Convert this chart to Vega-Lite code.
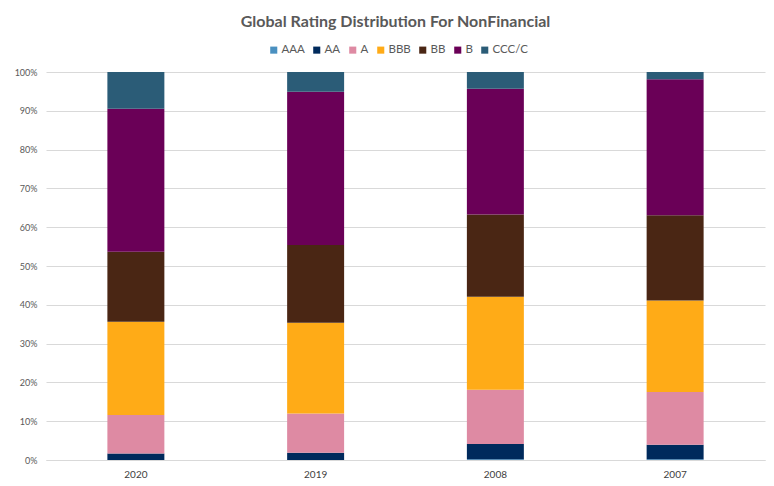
{
  "$schema": "https://vega.github.io/schema/vega-lite/v6.json",
  "width": 719,
  "height": 388,
  "autosize": {"type": "none"},
  "padding": {"left": 46, "top": 72, "right": 9, "bottom": 26},
  "background": "white",
  "title": {
    "text": "Global Rating Distribution For NonFinancial",
    "anchor": "middle",
    "font": "Lato",
    "fontSize": 16,
    "fontWeight": "bold",
    "color": "#595959",
    "offset": 14,
    "dx": -10
  },
  "data": {
    "values": [
      {"year": "2020", "rating": "AAA", "share": 0.0},
      {"year": "2020", "rating": "AA", "share": 0.017},
      {"year": "2020", "rating": "A", "share": 0.099},
      {"year": "2020", "rating": "BBB", "share": 0.240},
      {"year": "2020", "rating": "BB", "share": 0.181},
      {"year": "2020", "rating": "B", "share": 0.368},
      {"year": "2020", "rating": "CCC/C", "share": 0.095},
      {"year": "2019", "rating": "AAA", "share": 0.0},
      {"year": "2019", "rating": "AA", "share": 0.019},
      {"year": "2019", "rating": "A", "share": 0.101},
      {"year": "2019", "rating": "BBB", "share": 0.234},
      {"year": "2019", "rating": "BB", "share": 0.200},
      {"year": "2019", "rating": "B", "share": 0.395},
      {"year": "2019", "rating": "CCC/C", "share": 0.051},
      {"year": "2008", "rating": "AAA", "share": 0.002},
      {"year": "2008", "rating": "AA", "share": 0.039},
      {"year": "2008", "rating": "A", "share": 0.140},
      {"year": "2008", "rating": "BBB", "share": 0.240},
      {"year": "2008", "rating": "BB", "share": 0.212},
      {"year": "2008", "rating": "B", "share": 0.324},
      {"year": "2008", "rating": "CCC/C", "share": 0.043},
      {"year": "2007", "rating": "AAA", "share": 0.002},
      {"year": "2007", "rating": "AA", "share": 0.037},
      {"year": "2007", "rating": "A", "share": 0.136},
      {"year": "2007", "rating": "BBB", "share": 0.236},
      {"year": "2007", "rating": "BB", "share": 0.220},
      {"year": "2007", "rating": "B", "share": 0.350},
      {"year": "2007", "rating": "CCC/C", "share": 0.019}
    ]
  },
  "transform": [
    {"calculate": "indexof(['AAA','AA','A','BBB','BB','B','CCC/C'], datum.rating)", "as": "rating_rank"}
  ],
  "mark": {"type": "bar"},
  "encoding": {
    "x": {
      "field": "year",
      "type": "nominal",
      "sort": ["2020", "2019", "2008", "2007"],
      "scale": {"paddingInner": 0.683, "paddingOuter": 0.3415},
      "axis": {
        "title": null,
        "labelAngle": 0,
        "ticks": false,
        "domain": true,
        "domainColor": "#D9D9D9",
        "labelColor": "#404040",
        "labelFont": "Lato",
        "labelFontSize": 10,
        "labelPadding": 9
      }
    },
    "y": {
      "field": "share",
      "type": "quantitative",
      "stack": "zero",
      "scale": {"domain": [0, 1], "nice": false},
      "axis": {
        "title": null,
        "format": ".0%",
        "values": [0, 0.1, 0.2, 0.3, 0.4, 0.5, 0.6, 0.7, 0.8, 0.9, 1.0],
        "domain": false,
        "ticks": false,
        "gridColor": "#D9D9D9",
        "labelColor": "#595959",
        "labelFont": "Lato",
        "labelFontSize": 9,
        "labelPadding": 9
      }
    },
    "color": {
      "field": "rating",
      "type": "nominal",
      "sort": ["AAA", "AA", "A", "BBB", "BB", "B", "CCC/C"],
      "scale": {
        "domain": ["AAA", "AA", "A", "BBB", "BB", "B", "CCC/C"],
        "range": ["#4A90C0", "#002A5C", "#DE8AA3", "#FFAB17", "#4A2614", "#6A0057", "#2B5C77"]
      },
      "legend": {
        "title": null,
        "orient": "none",
        "direction": "horizontal",
        "legendX": 222,
        "legendY": -28,
        "symbolType": "square",
        "symbolSize": 50,
        "symbolStrokeWidth": 0,
        "labelColor": "#595959",
        "labelFont": "Lato",
        "labelFontSize": 11.5,
        "labelOffset": 2,
        "columnPadding": 6,
        "columns": 7
      }
    },
    "order": {"field": "rating_rank", "type": "quantitative", "sort": "ascending"}
  },
  "config": {"view": {"stroke": null}}
}
